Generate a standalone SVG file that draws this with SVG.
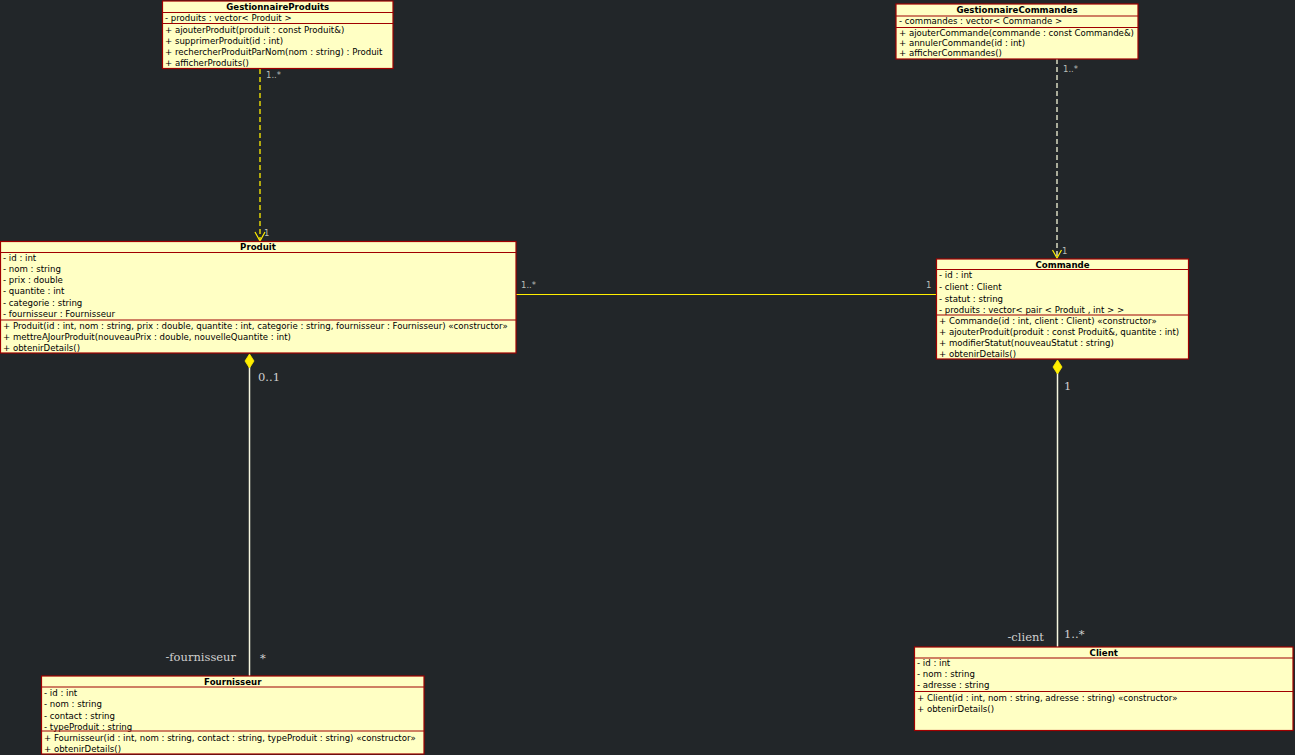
<svg xmlns="http://www.w3.org/2000/svg" width="1295" height="755" viewBox="0 0 1295 755">
<style>
.box{fill:#ffffc4;stroke:#a00000;stroke-width:1.2}
.div{stroke:#a00000;stroke-width:1.2}
.t{font-family:"DejaVu Sans",sans-serif;font-size:8.58px;fill:#000}
.title{font-family:"DejaVu Sans",sans-serif;font-size:8.6px;font-weight:bold;fill:#000;text-anchor:middle}
.sm{font-family:"DejaVu Sans",sans-serif;font-size:8.5px;fill:#b8bdb8}
.lb{font-family:"DejaVu Serif",serif;font-size:11.5px;fill:#d0d0d0}
.dashY{stroke:#ffee00;stroke-width:1.3;stroke-dasharray:5,3;fill:none}
.dashW{stroke:#f4f4d8;stroke-width:1.3;stroke-dasharray:5,3;fill:none}
.solW{stroke:#f6f6e0;stroke-width:1.5;fill:none}
.head{stroke:#ffee00;stroke-width:1.2;fill:none}
.dia{fill:#ffee00;stroke:#ffee00;stroke-width:0.8}
</style>
<rect width="1295" height="755" fill="#222629"/>

<g id="connectors">
  <path class="dashY" d="M260,69 V240"/>
  <path class="head" d="M255,232 L260,241 L265,232"/>
  <path class="dashW" d="M1057,59 V258"/>
  <path class="head" d="M1052.5,250 L1057,258 L1061.5,250"/>
  <path d="M516,294.5 H936" stroke="#ffee00" stroke-width="1.1"/>
  <path class="solW" d="M249.5,366 V676"/>
  <polygon class="dia" points="249.5,354 254,361 249.5,368 245,361"/>
  <path class="solW" d="M1057.5,372 V647"/>
  <polygon class="dia" points="1057.5,360 1062,367 1057.5,374 1053,367"/>
  <text class="sm" x="266" y="78">1..*</text>
  <text class="sm" x="264" y="236">1</text>
  <text class="sm" x="1063" y="72">1..*</text>
  <text class="sm" x="1062" y="254">1</text>
  <text class="sm" x="521" y="288">1..*</text>
  <text class="sm" x="926" y="288">1</text>
  <text class="lb" x="258" y="381">0..1</text>
  <text class="lb" x="1064" y="390">1</text>
  <text class="lb" x="236" y="661" text-anchor="end">-fournisseur</text>
  <text class="lb" x="260" y="662">*</text>
  <text class="lb" x="1044" y="641" text-anchor="end">-client</text>
  <text class="lb" x="1064" y="638">1..*</text>
</g>

<g id="GestionnaireProduits">
  <rect class="box" x="162.5" y="1" width="230.5" height="67.5"/>
  <text class="title" x="277.75" y="10">GestionnaireProduits</text>
  <line class="div" x1="162.5" y1="12.5" x2="393" y2="12.5"/>
  <text class="t" x="165" y="20.5">- produits : vector&lt; Produit &gt;</text>
  <line class="div" x1="162.5" y1="23.5" x2="393" y2="23.5"/>
  <text class="t" x="165" y="33">+ ajouterProduit(produit : const Produit&amp;)</text>
  <text class="t" x="165" y="44">+ supprimerProduit(id : int)</text>
  <text class="t" x="165" y="55">+ rechercherProduitParNom(nom : string) : Produit</text>
  <text class="t" x="165" y="65.5">+ afficherProduits()</text>
</g>

<g id="GestionnaireCommandes">
  <rect class="box" x="896" y="4" width="242" height="55"/>
  <text class="title" x="1017" y="13">GestionnaireCommandes</text>
  <line class="div" x1="896" y1="16" x2="1138" y2="16"/>
  <text class="t" x="899" y="24">- commandes : vector&lt; Commande &gt;</text>
  <line class="div" x1="896" y1="27.5" x2="1138" y2="27.5"/>
  <text class="t" x="899" y="36">+ ajouterCommande(commande : const Commande&amp;)</text>
  <text class="t" x="899" y="46">+ annulerCommande(id : int)</text>
  <text class="t" x="899" y="55.5">+ afficherCommandes()</text>
</g>

<g id="Produit">
  <rect class="box" x="0.5" y="241.5" width="515.5" height="111.5"/>
  <text class="title" x="258" y="250">Produit</text>
  <line class="div" x1="0.5" y1="252.5" x2="516" y2="252.5"/>
  <text class="t" x="3" y="261">- id : int</text>
  <text class="t" x="3" y="272">- nom : string</text>
  <text class="t" x="3" y="283">- prix : double</text>
  <text class="t" x="3" y="294">- quantite : int</text>
  <text class="t" x="3" y="305.5">- categorie : string</text>
  <text class="t" x="3" y="316.5">- fournisseur : Fournisseur</text>
  <line class="div" x1="0.5" y1="320" x2="516" y2="320"/>
  <text class="t" x="3" y="328.5">+ Produit(id : int, nom : string, prix : double, quantite : int, categorie : string, fournisseur : Fournisseur) «constructor»</text>
  <text class="t" x="3" y="339.5">+ mettreAJourProduit(nouveauPrix : double, nouvelleQuantite : int)</text>
  <text class="t" x="3" y="350.5">+ obtenirDetails()</text>
</g>

<g id="Commande">
  <rect class="box" x="936.5" y="259" width="252" height="100"/>
  <text class="title" x="1062.5" y="267.5">Commande</text>
  <line class="div" x1="936.5" y1="269.5" x2="1188.5" y2="269.5"/>
  <text class="t" x="939" y="278">- id : int</text>
  <text class="t" x="939" y="289.5">- client : Client</text>
  <text class="t" x="939" y="301.5">- statut : string</text>
  <text class="t" x="939" y="312.5">- produits : vector&lt; pair &lt; Produit , int &gt; &gt;</text>
  <line class="div" x1="936.5" y1="315" x2="1188.5" y2="315"/>
  <text class="t" x="939" y="323.5">+ Commande(id : int, client : Client) «constructor»</text>
  <text class="t" x="939" y="334.5">+ ajouterProduit(produit : const Produit&amp;, quantite : int)</text>
  <text class="t" x="939" y="346">+ modifierStatut(nouveauStatut : string)</text>
  <text class="t" x="939" y="357">+ obtenirDetails()</text>
</g>

<g id="Fournisseur">
  <rect class="box" x="41.5" y="676" width="382.5" height="78"/>
  <text class="title" x="232.75" y="685">Fournisseur</text>
  <line class="div" x1="41.5" y1="687" x2="424" y2="687"/>
  <text class="t" x="44" y="695.5">- id : int</text>
  <text class="t" x="44" y="706.5">- nom : string</text>
  <text class="t" x="44" y="718.5">- contact : string</text>
  <text class="t" x="44" y="729.5">- typeProduit : string</text>
  <line class="div" x1="41.5" y1="731" x2="424" y2="731"/>
  <text class="t" x="44" y="741">+ Fournisseur(id : int, nom : string, contact : string, typeProduit : string) «constructor»</text>
  <text class="t" x="44" y="751.5">+ obtenirDetails()</text>
</g>

<g id="Client">
  <rect class="box" x="914.5" y="647" width="378.5" height="83.5"/>
  <text class="title" x="1103.75" y="656">Client</text>
  <line class="div" x1="914.5" y1="658" x2="1293" y2="658"/>
  <text class="t" x="917" y="666">- id : int</text>
  <text class="t" x="917" y="677">- nom : string</text>
  <text class="t" x="917" y="688">- adresse : string</text>
  <line class="div" x1="914.5" y1="691.5" x2="1293" y2="691.5"/>
  <text class="t" x="917" y="701">+ Client(id : int, nom : string, adresse : string) «constructor»</text>
  <text class="t" x="917" y="712">+ obtenirDetails()</text>
</g>
</svg>
